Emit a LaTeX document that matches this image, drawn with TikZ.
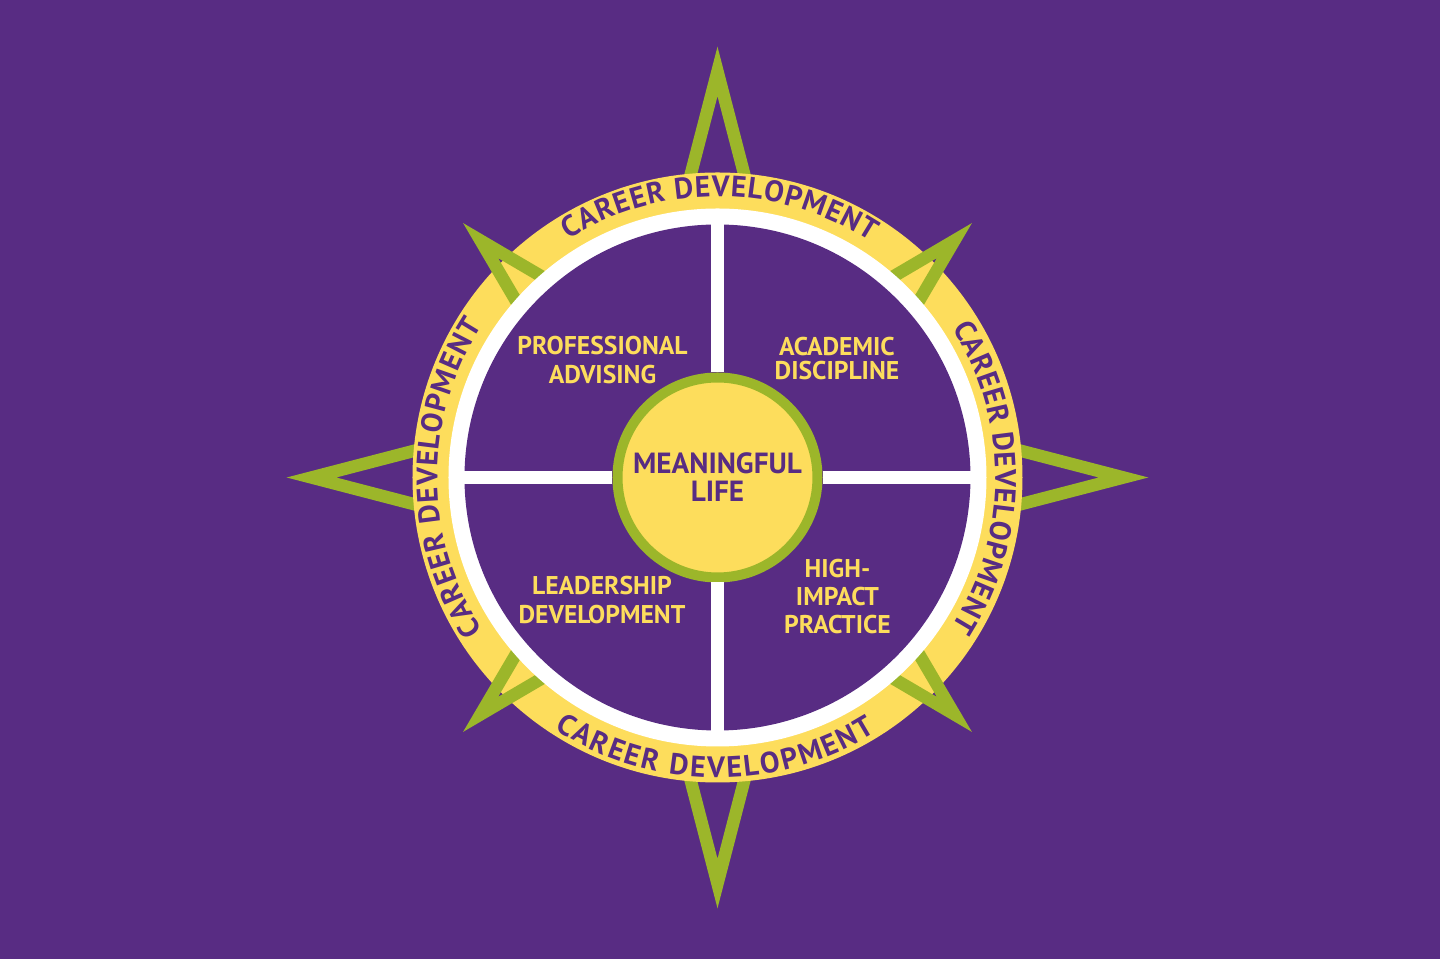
\documentclass[tikz,border=0pt]{standalone}
\usepackage{fontspec}
\setmainfont{PT Sans}
\usetikzlibrary{decorations.text}
\definecolor{campus}{HTML}{582C83}
\definecolor{gold}{HTML}{FDDD5C}
\definecolor{leaf}{HTML}{9CB62A}
\newcommand{\quadfont}{\bfseries\fontsize{7.3}{8}\selectfont}
\newcommand{\ringfont}{\color{campus}\bfseries\fontsize{8.4}{9}\selectfont}

\begin{document}
\begin{tikzpicture}
	\tikzset{
	  arm/.pic ={
		\draw[pic actions,line width=3.55pt]
		  (0,#1) -- ({-0.26*#1},0) -- ({0.26*#1},0) -- cycle;
	  },
	}
	\tikzset{
	  ringtext/.style={decorate,font=\ringfont,decoration={text along path,
		text={|\ringfont|CAREER DEVELOPMENT},text align=fit to path}},
	  spoke/.style={white,line width=3.7pt},
	  quadlabel/.style={gold,font=\quadfont,align=center,inner sep=0pt},
	}

	%BACKGROUND
	\fill[campus] (-7.175,-4.815) rectangle (7.225,4.775);
	\useasboundingbox (-7.175,-4.815) rectangle (7.225,4.775);

	%STAR
	\draw[leaf] (0,0) pic {arm=4.06};
	\draw[leaf] (0,0) pic[rotate=90] {arm=4.06};
	\draw[leaf] (0,0) pic[rotate=180] {arm=4.06};
	\draw[leaf] (0,0) pic[rotate=-90] {arm=4.06};

	%RINGS
	\fill[gold] (0,0) circle (3.05);

	%SMALL POINTS
	\filldraw[draw=leaf,fill=campus] (0,0) pic[rotate=45] {arm=3.35};
	\filldraw[draw=leaf,fill=campus] (0,0) pic[rotate=-45] {arm=3.35};
	\filldraw[draw=leaf,fill=campus] (0,0) pic[rotate=135] {arm=3.35};
	\filldraw[draw=leaf,fill=campus] (0,0) pic[rotate=-135] {arm=3.35};

	\fill[white] (0,0) circle (2.69);
	\fill[campus] (0,0) circle (2.53);

	%CAREER DEVELOPMENT
	\path[ringtext] (122:2.81) arc[start angle=122,end angle=57,radius=2.81];
	\path[ringtext] (32.5:2.78) arc[start angle=32.5,end angle=-32.5,radius=2.78];
	\path[ringtext] (213:2.80) arc[start angle=213,end angle=147,radius=2.80];
	\path[ringtext] (237:3.00) arc[start angle=237,end angle=302,radius=3.00];

	%HUB
	\node[circle,fill=gold,draw=leaf,line width=2.85pt,minimum size=2cm,inner sep=0pt,
	  text=campus,font=\bfseries\fontsize{8.3}{8}\selectfont,align=center] (life) at (0,0) {MEANINGFUL\\LIFE};

	%SPOKES
	\coordinate (hubN) at (90:2.6);
	\coordinate (hubS) at (-90:2.6);
	\coordinate (hubW) at (180:2.6);
	\coordinate (hubE) at (0:2.6);
	\draw[spoke] (life) -- (hubN);
	\draw[spoke] (life) -- (hubS);
	\draw[spoke] (life) -- (hubW);
	\draw[spoke] (life) -- (hubE);

	%QUADRANTS
	\node[quadlabel] (advising) at (-1.15,1.175) {PROFESSIONAL\\ADVISING};
	\node[quadlabel,font=\bfseries\fontsize{7.3}{6.8}\selectfont] (discipline) at (1.195,1.19) {ACADEMIC\\DISCIPLINE};
	\node[quadlabel] (leadership) at (-1.155,-1.225) {LEADERSHIP\\DEVELOPMENT};
	\node[quadlabel] (practice) at (1.20,-1.19) {HIGH-\\IMPACT\\PRACTICE};
\end{tikzpicture}
\end{document}
